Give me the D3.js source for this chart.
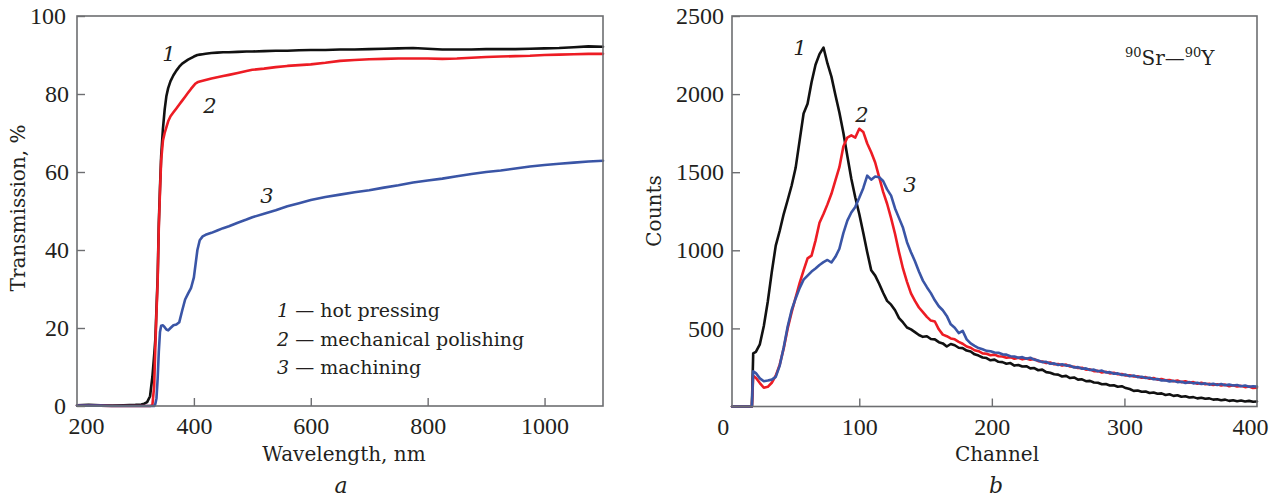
<!DOCTYPE html>
<html>
<head>
<meta charset="utf-8">
<script src="https://cdn.jsdelivr.net/npm/d3@7"></script>
<style>
  html, body { margin: 0; padding: 0; background: #fff; }
  svg { display: block; }
</style>
</head>
<body>
<svg id="chart" width="1282" height="499"></svg>
<script>
// ---- Panel a: optical transmission spectra ----
const wavelength = [200, 220, 240, 260, 280, 300,
  310, 315, 320, 325, 329, 332, 334, 336, 338, 340,
  342, 344, 347, 350, 353, 356, 360, 365, 370, 375,
  380, 385, 390, 395, 400, 403, 406, 410, 415, 420,
  430, 440, 450, 460, 475, 490, 500, 520, 540, 560,
  580, 600, 625, 650, 675, 700, 725, 750, 775, 800,
  825, 850, 875, 900, 925, 950, 975, 1000, 1025, 1050,
  1075, 1100];

const transHotPressing = [0.2, 0.3, 0.2, 0.1, 0.2, 0.3,
  0.4, 0.6, 1.0, 2.5, 7.5, 13, 17, 25, 33, 47,
  56, 64, 71, 76, 79.5, 81.5, 83.3, 84.8, 86, 87,
  87.8, 88.3, 88.8, 89.2, 89.6, 89.8, 90, 90.1, 90.2, 90.3,
  90.5, 90.6, 90.7, 90.7, 90.8, 90.9, 90.9, 91.0, 91.1, 91.1,
  91.2, 91.3, 91.3, 91.4, 91.4, 91.5, 91.6, 91.7, 91.8, 91.6,
  91.4, 91.4, 91.4, 91.5, 91.5, 91.5, 91.6, 91.7, 91.8, 92.0,
  92.2, 92.1];

const transPolishing = [0.1, 0.1, 0.1, 0, 0, 0,
  0, 0, 0, 0, 0.2, 5, 15, 24, 32, 46,
  55, 63, 68, 70, 71.5, 73, 74.3, 75.3, 76.3, 77.3,
  78.3, 79.3, 80.3, 81.3, 82.2, 82.7, 83, 83.2, 83.4, 83.6,
  84, 84.3, 84.6, 84.9, 85.4, 85.9, 86.2, 86.5, 86.9, 87.2,
  87.4, 87.6, 88, 88.5, 88.7, 88.9, 89.0, 89.1, 89.1, 89.1,
  89.0, 89.1, 89.3, 89.5, 89.6, 89.7, 89.8, 90, 90.1, 90.2,
  90.3, 90.3];

const transMachining = [0.1, 0.1, 0.1, 0, 0, 0,
  0, 0, 0, 0, 0, 0, 0.5, 2, 7, 14,
  19, 20.6, 20.7, 20.2, 19.6, 19.4, 20, 20.7, 20.9, 21.5,
  24.5, 27.3, 28.8, 30.2, 33, 36.5, 40, 42.5, 43.5, 43.9,
  44.4, 45, 45.6, 46.1, 47, 47.8, 48.4, 49.3, 50.2, 51.2,
  52, 52.8, 53.6, 54.2, 54.8, 55.3, 56, 56.6, 57.3, 57.8,
  58.3, 58.9, 59.5, 60, 60.4, 60.9, 61.4, 61.8, 62.1, 62.4,
  62.7, 62.9];

const wavelengthTicks = [200, 400, 600, 800, 1000];
const transmissionTicks = [0, 20, 40, 60, 80, 100];
const legendNumbers = ["1", "2", "3"];
const legendNames = ["hot pressing", "mechanical polishing", "machining"];

// ---- Panel b: 90Sr-90Y pulse-height spectra ----
const channel = [4, 19, 20,
  22, 25, 28, 31, 34, 37, 40, 43, 46, 49,
  52, 55, 58, 61, 64, 67, 70, 73, 76, 79,
  82, 85, 88, 91, 94, 97, 100, 103, 106, 109,
  112, 115, 118, 121, 124, 127, 130, 133, 136, 139,
  142, 145, 148, 151, 154, 157, 160, 163, 166, 169,
  172, 175, 178, 181, 184, 187, 190, 193, 196, 199,
  202, 205, 208, 211, 214, 217, 220, 223, 226, 229,
  232, 235, 238, 241, 244, 247, 250, 253, 256, 259,
  262, 265, 268, 271, 274, 277, 280, 283, 286, 289,
  292, 295, 298, 301, 304, 307, 310, 313, 316, 319,
  322, 325, 328, 331, 334, 337, 340, 343, 346, 349,
  352, 355, 358, 361, 364, 367, 370, 373, 376, 379,
  382, 385, 388, 391, 394, 397, 400];

const countsHotPressing = [0, 0, 340,
  350, 398, 515, 672, 860, 1030, 1125, 1232, 1322, 1415,
  1528, 1702, 1876, 1938, 2076, 2188, 2256, 2298, 2196, 2112,
  1994, 1882, 1752, 1604, 1458, 1338, 1232, 1112, 988, 872,
  838, 786, 728, 676, 652, 616, 566, 538, 506, 494,
  476, 458, 446, 450, 432, 430, 412, 404, 384, 400,
  392, 376, 374, 358, 352, 334, 326, 314, 310, 296,
  300, 286, 284, 274, 278, 262, 266, 256, 258, 244,
  246, 232, 236, 220, 216, 206, 204, 192, 196, 182,
  186, 172, 174, 162, 164, 154, 152, 142, 144, 134,
  136, 126, 130, 118, 112, 100, 102, 94, 96, 86,
  90, 82, 84, 74, 78, 68, 72, 62, 66, 58,
  60, 52, 56, 50, 52, 44, 46, 40, 44, 36,
  40, 34, 38, 32, 36, 30, 32];

const countsPolishing = [0, 0, 196,
  184, 150, 120, 126, 152, 198, 268, 372, 500, 604,
  698, 790, 872, 948, 966, 1062, 1176, 1232, 1294, 1362,
  1448, 1532, 1664, 1722, 1736, 1722, 1778, 1758, 1684, 1628,
  1562, 1468, 1374, 1298, 1206, 1104, 988, 882, 798, 724,
  676, 634, 604, 574, 550, 544, 494, 460, 450, 436,
  430, 414, 402, 384, 376, 360, 354, 340, 338, 328,
  332, 322, 320, 312, 316, 306, 312, 302, 308, 300,
  304, 290, 288, 278, 282, 270, 272, 262, 268, 256,
  254, 246, 248, 236, 238, 226, 228, 218, 222, 212,
  216, 206, 208, 198, 200, 192, 194, 184, 188, 178,
  182, 172, 176, 168, 170, 162, 166, 156, 162, 152,
  156, 146, 152, 142, 146, 138, 142, 134, 140, 130,
  136, 128, 132, 124, 128, 118, 120];

const countsMachining = [0, 0, 226,
  214, 180, 162, 166, 172, 190, 262, 378, 512, 618,
  692, 758, 812, 838, 864, 884, 906, 924, 938, 922,
  958, 1010, 1110, 1190, 1242, 1278, 1336, 1398, 1478, 1452,
  1472, 1468, 1444, 1390, 1350, 1268, 1206, 1144, 1052, 988,
  930, 864, 806, 764, 726, 680, 642, 616, 580, 526,
  504, 470, 484, 430, 404, 388, 374, 366, 356, 354,
  346, 344, 334, 332, 322, 320, 312, 316, 306, 312,
  300, 294, 284, 286, 274, 276, 266, 270, 262, 262,
  250, 252, 242, 244, 234, 236, 226, 230, 218, 220,
  210, 212, 202, 204, 194, 198, 188, 190, 182, 184,
  174, 176, 166, 168, 160, 164, 156, 158, 150, 156,
  148, 152, 144, 148, 140, 146, 138, 144, 136, 140,
  134, 138, 130, 134, 126, 130, 128];

const channelTicks = [0, 100, 200, 300, 400];
const countTicks = [500, 1000, 1500, 2000, 2500];

// ---- styling ----
const COLORS = ["#111111", "#ed1c24", "#3a55a6"];
const FRAME = "#6d6e71";
const INK = "#231f20";
const TEXT_FONT = "'DejaVu Serif', serif";
const NUM_FONT = "'Liberation Serif', 'Times New Roman', serif";

const svg = d3.select("#chart");
svg.append("rect").attr("width", 1282).attr("height", 499).attr("fill", "#fff");

const xA = d3.scaleLinear().domain([200, 1100]).range([77, 603]);
const yA = d3.scaleLinear().domain([0, 100]).range([406, 16]);
const xB = d3.scaleLinear().domain([4, 400]).range([732, 1257]);
const yB = d3.scaleLinear().domain([0, 2500]).range([406.5, 16]);

const plainInt = d3.format("d");

function styleAxis(g, shift) {
  g.select(".domain").remove();
  g.selectAll(".tick line").attr("stroke", FRAME).attr("stroke-width", 1.4);
  g.selectAll(".tick text")
    .attr("font-family", NUM_FONT)
    .attr("font-size", 24)
    .attr("fill", INK);
  if (shift) g.selectAll(".tick text").attr("dx", d => shift[d] || 0);
}

function drawPanel(cfg) {
  const { x, y, xTicks, yTicks, xShift, yShift, hideXTickLines } = cfg;
  const [x0, x1] = x.range();
  const [y0, y1] = y.range();

  const gx = svg.append("g").attr("transform", `translate(0,${y0})`)
    .call(d3.axisBottom(x).tickValues(xTicks).tickFormat(plainInt).tickSize(-8).tickPadding(11));
  styleAxis(gx, xShift);
  gx.selectAll(".tick").filter(d => hideXTickLines.includes(d)).select("line").remove();

  const gy = svg.append("g").attr("transform", `translate(${x0},0)`)
    .call(d3.axisLeft(y).tickValues(yTicks).tickFormat(plainInt).tickSize(-8).tickPadding(8));
  styleAxis(gy, yShift);

  svg.append("rect")
    .attr("x", x0).attr("y", y1)
    .attr("width", x1 - x0).attr("height", y0 - y1)
    .attr("fill", "none").attr("stroke", FRAME).attr("stroke-width", 1.6);
}

function drawSeries(x, y, xs, series) {
  const line = d3.line().x((d, i) => x(xs[i])).y(d => y(d));
  series.forEach((vals, k) => {
    svg.append("path")
      .datum(vals)
      .attr("d", line)
      .attr("fill", "none")
      .attr("stroke", COLORS[k])
      .attr("stroke-width", 2.6)
      .attr("stroke-linejoin", "round")
      .attr("stroke-linecap", "round");
  });
}

// Panel a
drawSeries(xA, yA, wavelength, [transHotPressing, transPolishing, transMachining]);
drawPanel({
  x: xA, y: yA, xTicks: wavelengthTicks, yTicks: transmissionTicks,
  xShift: { 200: 9 }, yShift: { 0: -3, 100: -3 }, hideXTickLines: [200]
});

// Panel b
drawSeries(xB, yB, channel, [countsHotPressing, countsPolishing, countsMachining]);
drawPanel({
  x: xB, y: yB, xTicks: channelTicks, yTicks: countTicks,
  xShift: { 0: -4, 400: -7 }, yShift: null, hideXTickLines: [0, 400]
});

// Text helper
function label(txt, x, y, opts = {}) {
  const t = svg.append("text")
    .attr("x", x).attr("y", y)
    .attr("text-anchor", opts.anchor || "middle")
    .attr("font-family", TEXT_FONT)
    .attr("font-size", opts.size || 20)
    .attr("font-style", opts.italic ? "italic" : "normal")
    .attr("fill", INK)
    .text(txt);
  if (opts.rotate) t.attr("transform", `rotate(-90,${x},${y})`);
  return t;
}

// Axis titles and panel letters
label("Wavelength, nm", 344, 461);
label("Transmission, %", 25, 208, { rotate: true });
label("Channel", 997, 461);
label("Counts", 661, 211, { rotate: true });
label("a", 341, 493, { italic: true, size: 22 });
label("b", 996, 493, { italic: true, size: 22 });

// Curve numbers, panel a
label("1", 169, 61, { italic: true, size: 21 });
label("2", 210, 113, { italic: true, size: 21 });
label("3", 267, 203, { italic: true, size: 21 });

// Curve numbers, panel b
label("1", 800, 55, { italic: true, size: 21 });
label("2", 862, 122, { italic: true, size: 21 });
label("3", 910, 192, { italic: true, size: 21 });

// Source label
const src = svg.append("text")
  .attr("x", 1125).attr("y", 65)
  .attr("font-family", TEXT_FONT).attr("font-size", 20).attr("fill", INK);
src.append("tspan").attr("font-size", 13).attr("dy", -8).text("90");
src.append("tspan").attr("dy", 8).text("Sr\u2014");
src.append("tspan").attr("font-size", 13).attr("dy", -8).text("90");
src.append("tspan").attr("dy", 8).text("Y");

// Legend, panel a
const legendBaselines = [317, 346, 374];
legendNumbers.forEach((n, i) => {
  const t = svg.append("text")
    .attr("x", 277).attr("y", legendBaselines[i])
    .attr("font-family", TEXT_FONT).attr("font-size", 19).attr("fill", INK);
  t.append("tspan").attr("font-style", "italic").text(n);
  t.append("tspan").text(" \u2014 " + legendNames[i]);
});
</script>
</body>
</html>
